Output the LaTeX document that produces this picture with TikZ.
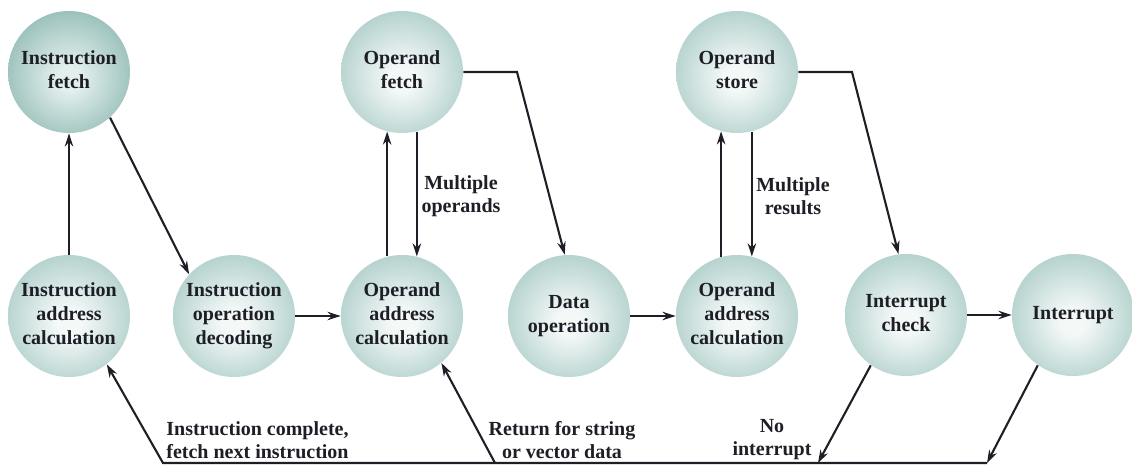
\documentclass[tikz,border=0pt]{standalone}
\usepackage{fontspec}
\setmainfont{Liberation Serif}
\usetikzlibrary{arrows.meta}

% colours of the shaded state balls
\definecolor{ballin}{HTML}{F4F9F8}
\definecolor{ballmid}{HTML}{A6C9C4}
\definecolor{ballout}{HTML}{669E98}
\definecolor{darkin}{HTML}{E2EFED}
\definecolor{darkmid}{HTML}{8AB6B0}
\definecolor{darkout}{HTML}{4A8882}
\definecolor{ink}{HTML}{1E1E26}

\pgfdeclareradialshading{tealball}{\pgfpoint{0bp}{-3bp}}{%
  color(0bp)=(ballin); color(5bp)=(ballin); color(32bp)=(ballmid); color(50bp)=(ballout)}
\pgfdeclareradialshading{darkball}{\pgfpoint{0bp}{-3bp}}{%
  color(0bp)=(darkin); color(5bp)=(darkin); color(32bp)=(darkmid); color(50bp)=(darkout)}

% centred multi-line text that does not widen the circle
\newcommand{\balltext}[1]{\makebox[0pt]{\begin{tabular}{@{}c@{}}#1\end{tabular}}}

\tikzset{
  state/.style={circle, minimum size=61pt, inner sep=0pt, shading=tealball,
    font=\fontsize{10}{12}\selectfont\bfseries, text=ink},
  darkstate/.style={state, shading=darkball},
  arr/.style={draw=ink, line width=1.05pt, -{Stealth[length=6.5pt,width=4.2pt]}},
  note/.style={font=\fontsize{10}{11.5}\selectfont\bfseries, text=ink, inner sep=0pt}
}

\begin{document}
\begin{tikzpicture}[x=0.5pt, y=-0.5pt]
  \useasboundingbox (0,0) rectangle (1132,466);

  % states
  \node[darkstate] (IF)   at (69,72)   {\balltext{Instruction\\fetch}};
  \node[state]     (IAC)  at (69,316)  {\balltext{Instruction\\address\\calculation}};
  \node[state]     (IOD)  at (234,316) {\balltext{Instruction\\operation\\decoding}};
  \node[state]     (OF)   at (402,72)  {\balltext{Operand\\fetch}};
  \node[state]     (OAC1) at (402,316) {\balltext{Operand\\address\\calculation}};
  \node[state]     (DO)   at (569,316) {\balltext{Data\\operation}};
  \node[state]     (OS)   at (737,72)  {\balltext{Operand\\store}};
  \node[state]     (OAC2) at (737,316) {\balltext{Operand\\address\\calculation}};
  \node[state]     (IC)   at (906,315) {\balltext{Interrupt\\check}};
  \node[state]     (INT)  at (1073,315) {\balltext{Interrupt}};

  % bends and the return line along the bottom
  \coordinate (k1) at (517,72);
  \coordinate (k2) at (852,72);
  \coordinate (b1) at (163,463);
  \coordinate (b2) at (495,463);
  \coordinate (b3) at (818,463);
  \coordinate (b4) at (987,463);

  % instruction part
  \draw[arr] (IAC.north) -- (IF.south);
  \draw[arr] (IF.-48) -- (IOD.137);
  \draw[arr] (IOD.east) -- (OAC1.west);

  % operand fetch loop
  \draw[arr] (OAC1.104) -- (OF.256);
  \draw[arr] (OF.284) -- (OAC1.76);
  \draw[arr] (OF.east) -- (k1) -- (DO.94);
  \draw[arr] (DO.east) -- (OAC2.west);

  % operand store loop
  \draw[arr] (OAC2.105) -- (OS.255);
  \draw[arr] (OS.284) -- (OAC2.76);
  \draw[arr] (OS.east) -- (k2) -- (IC.97);
  \draw[arr] (IC.east) -- (INT.west);

  % returns
  \draw[arr] (IC.-125) -- (b3);
  \draw[arr] (INT.-125) -- (b4);
  \draw[arr] (b4) -- (b1) -- (IAC.-52);
  \draw[arr] (b2) -- (OAC1.-50);

  % labels
  \node[note, align=center] (lmo) at (461,196) {Multiple\\operands};
  \node[note, align=center] (lmr) at (793,196) {Multiple\\results};
  \node[note, align=left, anchor=west] (lic) at (166,440) {Instruction complete,\\fetch next instruction};
  \node[note, align=center] (lrs) at (562,440) {Return for string\\or vector data};
  \node[note, align=center] (lni) at (772,440) {No\\interrupt};
\end{tikzpicture}
\end{document}
